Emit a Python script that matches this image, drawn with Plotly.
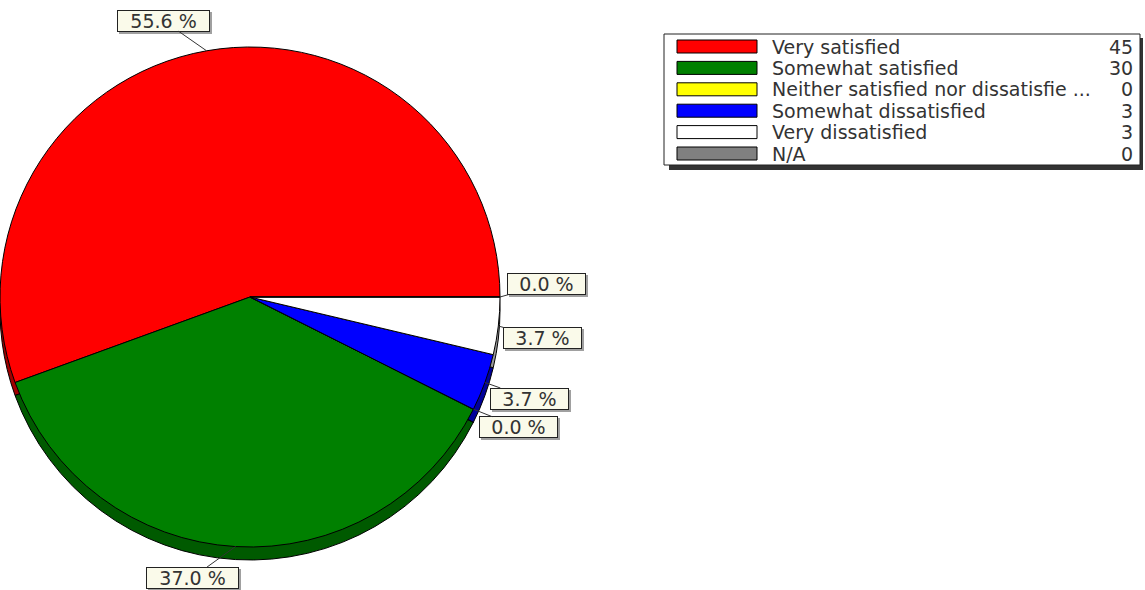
import numpy as np
import plotly.graph_objects as go

# Survey responses
labels = ["Very satisfied", "Somewhat satisfied", "Neither satisfied nor dissatisfied",
          "Somewhat dissatisfied", "Very dissatisfied", "N/A"]
legend_labels = ["Very satisfied", "Somewhat satisfied", "Neither satisfied nor dissatisfie ...",
                 "Somewhat dissatisfied", "Very dissatisfied", "N/A"]
counts = [45, 30, 0, 3, 3, 0]

colors = ["#ff0000", "#008000", "#ffff00", "#0000ff", "#ffffff", "#808080"]
depth_colors = ["#a00000", "#005a00", "#a0a000", "#00009a", "#9a9a9a", "#505050"]

W, H = 1145, 590
CX, CY, R = 250, 297, 250      # pie centre / radius in pixels (top-left origin)
DEPTH = 13                     # thickness of the pie edge
FONT = "DejaVu Sans"


def px(x):
    return x / W


def py(y):
    return 1 - y / H


total = sum(counts)
pct = [100.0 * c / total for c in counts]
pct_text = [f"{p:.1f} %" for p in pct]

fig = go.Figure()

# pie edge (drawn first, shifted down) then the top face
for shift, cols in ((DEPTH, depth_colors), (0, colors)):
    fig.add_trace(go.Pie(
        labels=labels, values=counts, sort=False, direction="counterclockwise",
        rotation=-110,
        marker=dict(colors=cols, line=dict(color="#000000", width=1)),
        textinfo="none", hoverinfo="label+value+percent", showlegend=False,
        domain=dict(x=[px(CX - R), px(CX + R)],
                    y=[py(CY + R + shift), py(CY - R + shift)]),
    ))

# percentage call-outs, anchored at the rim at each slice's mid angle
label_offsets = [(-43, -30), (-43, 31), (45, 18), (45, 16), (44, 12), (46, -13)]
start = 0.0
for i, c in enumerate(counts):
    span = 360.0 * c / total
    mid = np.radians(start + span / 2)
    start += span
    xr = CX + R * np.cos(mid)
    yr = CY - R * np.sin(mid)
    ax, ay = label_offsets[i]
    common = dict(x=px(xr), y=py(yr), xref="paper", yref="paper", text=pct_text[i],
                  ax=ax, ay=ay, width=14 * len(pct_text[i]) + 3, height=16,
                  borderpad=2, borderwidth=1,
                  font=dict(family=FONT, size=19, color="#333333"))
    fig.add_annotation(**common, showarrow=True, arrowcolor="rgba(0,0,0,0)",
                       xshift=2, yshift=-2, bgcolor="#a0a0a0", bordercolor="#a0a0a0")
    fig.add_annotation(**common, showarrow=True, arrowhead=0, arrowwidth=1,
                       arrowcolor="#333333", bgcolor="#fafaea", bordercolor="#222222")

# legend panel with counts
LX0, LY0, LX1, LY1 = 664, 34, 1140, 165
shapes = [
    dict(type="rect", xref="paper", yref="paper", x0=px(LX0 + 5), x1=px(LX1 + 3),
         y0=py(LY1 + 5), y1=py(LY0 + 4), fillcolor="#333333", line=dict(width=0)),
    dict(type="rect", xref="paper", yref="paper", x0=px(LX0), x1=px(LX1),
         y0=py(LY1), y1=py(LY0), fillcolor="#ffffff", line=dict(color="#222222", width=1)),
]
row0, row_step = 46.5, 21.4
for i, lab in enumerate(legend_labels):
    yc = row0 + i * row_step
    shapes.append(dict(type="rect", xref="paper", yref="paper",
                       x0=px(677), x1=px(757), y0=py(yc + 6.5), y1=py(yc - 6.5),
                       fillcolor=colors[i], line=dict(color="#000000", width=1)))
    fig.add_annotation(x=px(770), y=py(yc), xref="paper", yref="paper", text=lab,
                       showarrow=False, xanchor="left", yanchor="middle",
                       font=dict(family=FONT, size=19, color="#333333"))
    fig.add_annotation(x=px(1135), y=py(yc), xref="paper", yref="paper", text=str(counts[i]),
                       showarrow=False, xanchor="right", yanchor="middle",
                       font=dict(family=FONT, size=19, color="#333333"))

fig.update_layout(
    width=W, height=H, margin=dict(l=0, r=0, t=0, b=0),
    paper_bgcolor="#ffffff", plot_bgcolor="#ffffff",
    shapes=shapes,
)

fig.write_html("out.html")
